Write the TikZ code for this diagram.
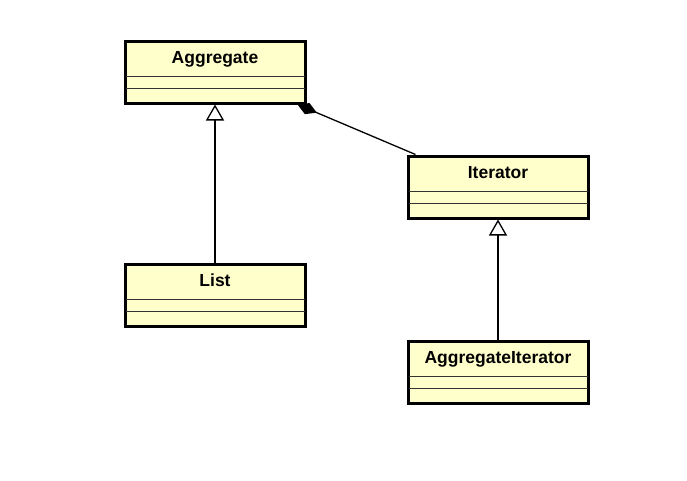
\documentclass[tikz,border=0pt]{standalone}
\usepackage{fontspec}
\setmainfont{Liberation Sans}
\usetikzlibrary{arrows.meta}
\definecolor{clsfill}{HTML}{FFFFCC}

\begin{document}
\begin{tikzpicture}[x=1pt,y=-1pt,
        cls/.style={rectangle,draw,line width=3pt,fill=clsfill,minimum width=180pt,inner sep=0pt,
            text height=22pt,text depth=40pt,font=\bfseries\fontsize{17.5}{17.5}\selectfont},
        sep/.style={line width=1pt,black!80,shorten <=2pt,shorten >=2pt}]
            \useasboundingbox (0,0) rectangle (687,480);

            \draw (215,72)  node[cls](agg){Aggregate};
            \draw (498,187) node[cls](it){Iterator};
            \draw (215,295) node[cls](lst){List};
            \draw (498,372) node[cls](aggit){AggregateIterator};

            \foreach \c in {agg,it,lst,aggit} {
                \draw[sep] ([yshift=-36.5pt]\c.north west) -- ([yshift=-36.5pt]\c.north east);
                \draw[sep] ([yshift=-49pt]\c.north west) -- ([yshift=-49pt]\c.north east);
            }

            \begin{scope}[line width=1.3pt, gen/.style={-{Triangle[fill=white,length=16pt,width=18pt]}}]
                \path[gen] (lst) edge (agg);
                \path[gen] (aggit) edge (it);
                \path[{Diamond[length=21pt,width=12pt]}-] ([xshift=-9pt]agg.south east) edge ([xshift=9pt]it.north west);
            \end{scope}
        \end{tikzpicture}
\end{document}
